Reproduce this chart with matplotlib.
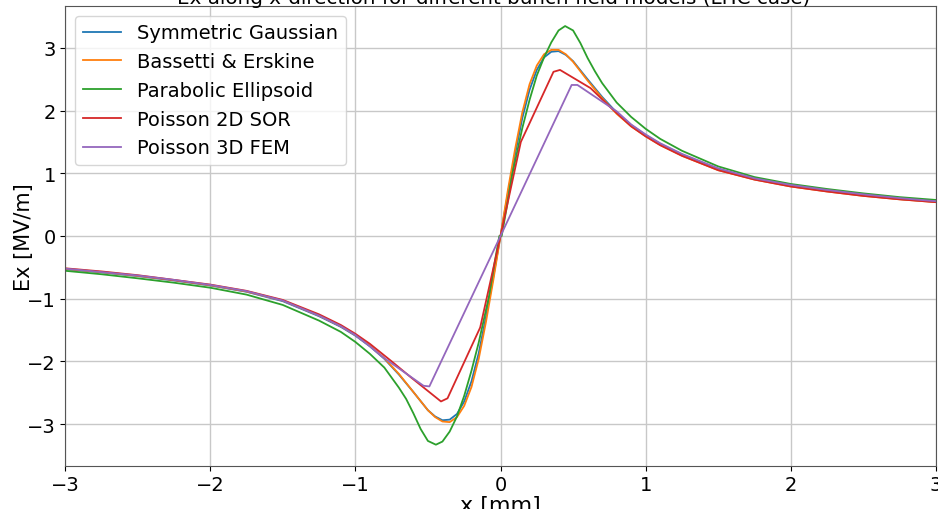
import matplotlib
matplotlib.use("Agg")
import matplotlib.pyplot as plt

# ---- data ----
x_grid = [-3.0, -2.75, -2.5, -2.25, -2.0, -1.75, -1.5, -1.25, -1.1, -1.0, -0.9, -0.8, -0.7, -0.6,
          -0.5, -0.45, -0.4, -0.35, -0.3, -0.25, -0.2, -0.15, -0.1, -0.05, 0.0,
          0.05, 0.1, 0.15, 0.2, 0.25, 0.3, 0.35, 0.4, 0.45, 0.5, 0.6, 0.7, 0.8, 0.9,
          1.0, 1.1, 1.25, 1.5, 1.75, 2.0, 2.25, 2.5, 2.75, 3.0]

sym_gauss = [-0.53, -0.58, -0.64, -0.71, -0.79, -0.89, -1.04, -1.28, -1.45, -1.59, -1.76, -1.96, -2.21, -2.49,
             -2.78, -2.88, -2.94, -2.93, -2.84, -2.64, -2.32, -1.87, -1.29, -0.66, 0.0,
             0.67, 1.30, 1.88, 2.33, 2.65, 2.85, 2.94, 2.95, 2.89, 2.79, 2.50, 2.22, 1.97, 1.77,
             1.61, 1.47, 1.30, 1.06, 0.91, 0.80, 0.72, 0.65, 0.59, 0.545]

bassetti = [-0.525, -0.575, -0.635, -0.705, -0.785, -0.885, -1.03, -1.27, -1.44, -1.58, -1.75, -1.95, -2.20, -2.49,
            -2.78, -2.89, -2.96, -2.97, -2.89, -2.71, -2.41, -1.96, -1.37, -0.71, 0.0,
            0.72, 1.38, 1.97, 2.42, 2.72, 2.90, 2.97, 2.97, 2.90, 2.78, 2.48, 2.20, 1.95, 1.75,
            1.59, 1.45, 1.28, 1.05, 0.90, 0.79, 0.71, 0.64, 0.585, 0.54]

x_pe = [-3.0, -2.75, -2.5, -2.25, -2.0, -1.75, -1.5, -1.25, -1.1, -1.0, -0.9, -0.8, -0.7, -0.65, -0.6, -0.55,
        -0.5, -0.445, -0.4, -0.35, -0.3, -0.25, -0.2, -0.15, -0.08, -0.05, -0.008,
        0.008, 0.05, 0.08, 0.15, 0.2, 0.25, 0.3, 0.35, 0.4, 0.445, 0.5, 0.55, 0.6, 0.65, 0.7,
        0.8, 0.9, 1.0, 1.1, 1.25, 1.5, 1.75, 2.0, 2.25, 2.5, 2.75, 3.0]
parabolic = [-0.555, -0.61, -0.675, -0.745, -0.825, -0.935, -1.10, -1.35, -1.53, -1.69, -1.88, -2.10, -2.42, -2.60, -2.83, -3.08,
             -3.27, -3.33, -3.28, -3.12, -2.88, -2.55, -2.15, -1.70, -0.97, -0.55, 0.0,
             0.0, 0.55, 0.97, 1.72, 2.17, 2.56, 2.85, 3.09, 3.28, 3.35, 3.28, 3.08, 2.84, 2.63, 2.44,
             2.13, 1.90, 1.71, 1.55, 1.36, 1.11, 0.94, 0.83, 0.75, 0.68, 0.62, 0.575]

x_sor = [-3.0, -2.75, -2.5, -2.25, -2.0, -1.75, -1.5, -1.25, -1.1, -1.0, -0.9, -0.75, -0.62, -0.41, -0.365,
         -0.14, 0.0, 0.14, 0.365, 0.41, 0.62, 0.75, 0.9, 1.0, 1.1, 1.25, 1.5, 1.75, 2.0, 2.25, 2.5, 2.75, 3.0]
poisson_2d = [-0.515, -0.565, -0.625, -0.70, -0.775, -0.875, -1.02, -1.25, -1.42, -1.56, -1.72, -2.00, -2.25, -2.64, -2.59,
              -1.46, 0.0, 1.50, 2.62, 2.65, 2.36, 2.07, 1.75, 1.59, 1.45, 1.28, 1.05, 0.90, 0.79, 0.71, 0.64, 0.585, 0.54]

x_fem = [-3.0, -2.75, -2.5, -2.25, -2.0, -1.75, -1.5, -1.25, -1.1, -1.0, -0.9, -0.8, -0.53, -0.49, 0.0,
         0.49, 0.53, 0.8, 0.9, 1.0, 1.1, 1.25, 1.5, 1.75, 2.0, 2.25, 2.5, 2.75, 3.0]
poisson_3d = [-0.52, -0.575, -0.63, -0.70, -0.78, -0.88, -1.03, -1.27, -1.44, -1.58, -1.76, -1.95, -2.39, -2.40, 0.0,
              2.41, 2.41, 1.99, 1.78, 1.62, 1.48, 1.31, 1.08, 0.92, 0.815, 0.735, 0.665, 0.605, 0.555]

labels = ["Symmetric Gaussian", "Bassetti & Erskine", "Parabolic Ellipsoid", "Poisson 2D SOR", "Poisson 3D FEM"]
colors = ["#1f77b4", "#ff7f0e", "#2ca02c", "#d62728", "#9467bd"]
title = "Ex along x-direction for different bunch field models (LHC case)"

W, H = 938, 510
fig = plt.figure(figsize=(W / 100, H / 100), dpi=100)
ax = fig.add_axes([65 / W, 1 - 467 / H, (936 - 65) / W, (467 - 7) / H])

series = [(x_grid, sym_gauss), (x_grid, bassetti), (x_pe, parabolic), (x_sor, poisson_2d), (x_fem, poisson_3d)]
for (xs, ys), lab, c in zip(series, labels, colors):
    ax.plot(xs, ys, color=c, lw=1.3, label=lab)

ax.set_xlim(-3, 3)
ax.set_ylim(-3.67, 3.67)
ax.set_xticks([-3, -2, -1, 0, 1, 2, 3])
ax.set_yticks([-3, -2, -1, 0, 1, 2, 3])
ax.tick_params(labelsize=14, pad=3)
ax.grid(True, color="#c8c8c8", lw=1.0)
ax.set_axisbelow(True)
ax.set_xlabel("x [mm]", fontsize=16, labelpad=1)
ax.set_ylabel("Ex [MV/m]", fontsize=15, labelpad=-5)
for s in ax.spines.values():
    s.set_color("#555555")

ax.legend(loc="upper left", fontsize=14, framealpha=0.8, borderaxespad=0.5)

fig.text(494 / W, 1 - 4 / H, title, ha="center", va="baseline", fontsize=14.3)

fig.savefig("out.png", dpi=100)
